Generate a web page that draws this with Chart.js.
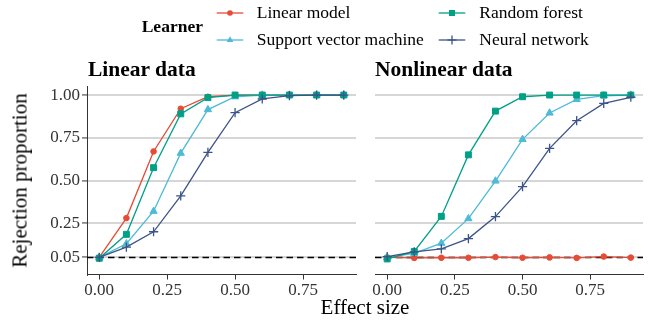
<!DOCTYPE html>
<html>
<head>
<meta charset="utf-8">
<script src="https://cdn.jsdelivr.net/npm/chart.js@4.4.1/dist/chart.umd.min.js"></script>
<style>
  html, body { margin: 0; padding: 0; background: #ffffff; }
  #wrap { position: relative; width: 650px; height: 322px; overflow: hidden; background: #fff;
          font-family: 'Liberation Serif', 'Times New Roman', serif; color: #000; }
  canvas { position: absolute; left: 0; top: 0; }
  .t { position: absolute; white-space: nowrap; line-height: 1; }
  svg { position: absolute; overflow: visible; }
</style>
</head>
<body>
<div id="wrap">
  <canvas id="cLeft" width="650" height="322"></canvas>
  <canvas id="cRight" width="650" height="322"></canvas>
</div>
<script>
// ---------- data ----------
const effectSizes = [0, 0.1, 0.2, 0.3, 0.4, 0.5, 0.6, 0.7, 0.8, 0.9];
const learners = ['Linear model', 'Support vector machine', 'Random forest', 'Neural network'];
const colors = ['#E64B35', '#4DBBD5', '#00A087', '#3C5488'];

// Linear data panel
const lmLinear  = [0.05, 0.28, 0.67, 0.92, 0.99, 1.00, 1.00, 1.00, 1.00, 1.00];
const svmLinear = [0.05, 0.13, 0.32, 0.66, 0.915, 0.99, 1.00, 1.00, 1.00, 1.00];
const rfLinear  = [0.045, 0.185, 0.575, 0.89, 0.985, 1.00, 1.00, 1.00, 1.00, 1.00];
const nnLinear  = [0.05, 0.11, 0.20, 0.41, 0.665, 0.897, 0.977, 0.997, 1.00, 1.00];

// Nonlinear data panel
const lmNonlinear  = [0.05, 0.047, 0.048, 0.048, 0.052, 0.048, 0.05, 0.047, 0.055, 0.049];
const svmNonlinear = [0.05, 0.074, 0.133, 0.277, 0.497, 0.741, 0.895, 0.975, 0.996, 1.00];
const rfNonlinear  = [0.041, 0.085, 0.29, 0.65, 0.906, 0.99, 1.00, 1.00, 1.00, 1.00];
const nnNonlinear  = [0.055, 0.082, 0.10, 0.16, 0.289, 0.464, 0.688, 0.85, 0.951, 0.987];

const yTickValues = [0.05, 0.25, 0.50, 0.75, 1.00];
const xTickValues = [0.00, 0.25, 0.50, 0.75];
const nominalLevel = 0.05;

const panelTitles = ['Linear data', 'Nonlinear data'];
const xAxisTitle = 'Effect size';
const yAxisTitle = 'Rejection proportion';
const legendTitle = 'Learner';

// ---------- styles ----------
const FONT = "'Liberation Serif', 'Times New Roman', serif";
Chart.defaults.font.family = FONT;
const pointStyles = ['circle', 'triangle', 'rect', 'cross'];
const pointRadii = [2.8, 4.2, 4.2, 4.6];

const hlinePlugin = {
  id: 'hline',
  beforeDatasetsDraw(chart) {
    const ctx = chart.ctx, a = chart.chartArea;
    const y = chart.scales.y.getPixelForValue(nominalLevel);
    ctx.save();
    ctx.strokeStyle = '#000';
    ctx.lineWidth = 1.5;
    ctx.setLineDash([6.5, 4]);
    ctx.beginPath();
    ctx.moveTo(a.left, y);
    ctx.lineTo(a.right, y);
    ctx.stroke();
    ctx.restore();
  }
};

function makePanel(canvasId, seriesList, isLeft) {
  const datasets = seriesList.map((vals, i) => ({
    label: learners[i],
    data: effectSizes.map((x, j) => ({ x: x, y: vals[j] })),
    borderColor: colors[i],
    backgroundColor: colors[i],
    borderWidth: 1.3,
    pointStyle: pointStyles[i],
    pointRadius: pointRadii[i],
    pointBackgroundColor: colors[i],
    pointBorderColor: colors[i],
    pointBorderWidth: i === 3 ? 1.3 : 1,
    tension: 0,
    clip: false,
    order: 3 - i
  }));
  return new Chart(document.getElementById(canvasId), {
    type: 'line',
    data: { datasets },
    plugins: [hlinePlugin],
    options: {
      responsive: false,
      animation: false,
      events: [],
      devicePixelRatio: 1,
      layout: { padding: { top: 86.5, bottom: 0, left: 0, right: isLeft ? 294 : 7 } },
      plugins: { legend: { display: false }, tooltip: { enabled: false }, title: { display: false } },
      scales: {
        x: {
          type: 'linear',
          min: -0.045,
          max: 0.945,
          afterBuildTicks: (s) => { s.ticks = xTickValues.map(v => ({ value: v })); },
          afterFit: (s) => { s.height = 47.5; },
          ticks: {
            callback: (v) => Number(v).toFixed(2),
            font: { size: 17, family: FONT },
            color: '#333',
            padding: 1,
            maxRotation: 0,
            autoSkip: false
          },
          grid: { drawOnChartArea: false, drawTicks: true, tickLength: 5, tickColor: '#333', tickWidth: 1 },
          border: { display: true, color: '#333', width: 1 }
        },
        y: {
          type: 'linear',
          min: -0.05,
          max: 1.05,
          afterBuildTicks: (s) => { s.ticks = yTickValues.map(v => ({ value: v })); },
          afterFit: (s) => { s.width = isLeft ? 87 : 375; },
          ticks: {
            display: isLeft,
            callback: (v) => Number(v).toFixed(2),
            font: { size: 17, family: FONT },
            color: '#333',
            padding: 2,
            autoSkip: false
          },
          grid: { color: '#d6d6d6', lineWidth: 1.9, drawTicks: isLeft, tickLength: 5, tickColor: '#333', tickWidth: 1 },
          border: { display: isLeft, color: '#333', width: 1 }
        }
      }
    }
  });
}

makePanel('cLeft', [lmLinear, svmLinear, rfLinear, nnLinear], true);
makePanel('cRight', [lmNonlinear, svmNonlinear, rfNonlinear, nnNonlinear], false);

// ---------- texts & legend ----------
const wrap = document.getElementById('wrap');
function addText(txt, css) {
  const d = document.createElement('div');
  d.className = 't';
  d.textContent = txt;
  Object.assign(d.style, css);
  wrap.appendChild(d);
  return d;
}
addText(panelTitles[0], { left: '88px', top: '58.7px', fontSize: '21.5px', fontWeight: 'bold' });
addText(panelTitles[1], { left: '375px', top: '58.7px', fontSize: '21.5px', fontWeight: 'bold' });
addText(xAxisTitle, { left: '215px', width: '300px', textAlign: 'center', top: '296.7px', fontSize: '21px' });
addText(yAxisTitle, { left: '-129.8px', width: '300px', height: '21px', textAlign: 'center', top: '169.5px',
                      fontSize: '21px', transform: 'rotate(-90deg)' });
addText(legendTitle, { left: '141.7px', top: '17.6px', fontSize: '17.5px', fontWeight: 'bold' });

// legend layout: column-major (2 rows)
const legendCols = [230, 452];
const legendTextX = [256.7, 479.3];
const legendRowsY = [13.3, 40];
const NS = 'http://www.w3.org/2000/svg';
learners.forEach((name, i) => {
  const col = Math.floor(i / 2), row = i % 2;
  const cx = legendCols[col], cy = legendRowsY[row];
  const svg = document.createElementNS(NS, 'svg');
  svg.setAttribute('width', '40'); svg.setAttribute('height', '20');
  svg.style.left = (cx - 20) + 'px'; svg.style.top = (cy - 10) + 'px';
  const c = colors[i];
  let html = `<line x1="6.7" y1="10" x2="33.3" y2="10" stroke="${c}" stroke-width="1.3"/>`;
  if (pointStyles[i] === 'circle') html += `<circle cx="20" cy="10" r="2.8" fill="${c}"/>`;
  if (pointStyles[i] === 'rect') html += `<rect x="17" y="7" width="6" height="6" fill="${c}"/>`;
  if (pointStyles[i] === 'triangle') html += `<polygon points="20,6.2 23.4,12.1 16.6,12.1" fill="${c}"/>`;
  if (pointStyles[i] === 'cross') html += `<line x1="20" y1="5.4" x2="20" y2="14.6" stroke="${c}" stroke-width="1.3"/><line x1="15.4" y1="10" x2="24.6" y2="10" stroke="${c}" stroke-width="1.3"/>`;
  svg.innerHTML = html;
  wrap.appendChild(svg);
  addText(name, { left: legendTextX[col] + 'px', top: (row === 0 ? 4.3 : 31.1) + 'px', fontSize: '17.5px' });
});
</script>
</body>
</html>
